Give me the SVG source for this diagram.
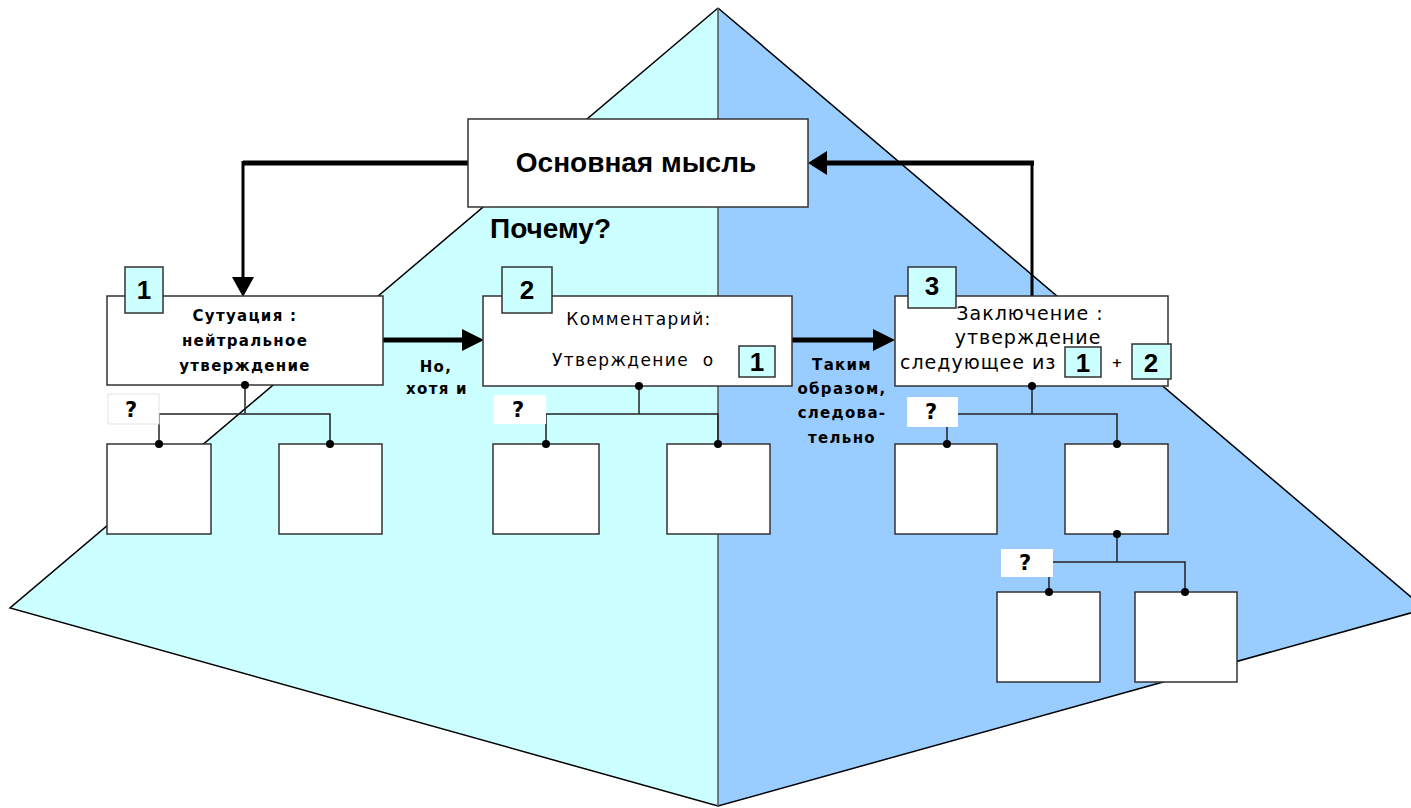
<svg xmlns="http://www.w3.org/2000/svg" width="1411" height="808" viewBox="0 0 1411 808">
<defs>
<style>
.box{fill:#fff;stroke:#333;stroke-width:1.5}
.num{fill:#ccffff;stroke:#333;stroke-width:1.5}
.q{fill:#fff;stroke:#e4e4e4;stroke-width:1}
.line{fill:none;stroke:#222;stroke-width:1.5}
.thick{fill:none;stroke:#000;stroke-width:5}
.mid{fill:none;stroke:#000;stroke-width:3}
.dot{fill:#000}
.head{fill:#000}
.numt{font-family:"Liberation Sans",Arial,sans-serif;font-weight:bold;font-size:26px;fill:#000;text-anchor:middle}
.bt{font-family:"DejaVu Sans",Verdana,sans-serif;font-weight:bold;font-size:15px;letter-spacing:1.3px;fill:#000;text-anchor:middle}
.rt{font-family:"DejaVu Sans",Verdana,sans-serif;font-size:17px;letter-spacing:1.4px;fill:#000}
.rt3{font-family:"DejaVu Sans",Verdana,sans-serif;font-size:19px;letter-spacing:1px;fill:#000}
.qt{font-family:"DejaVu Sans",Verdana,sans-serif;font-weight:bold;font-size:21px;fill:#000;text-anchor:middle}
</style>
</defs>
<g id="pyramid">
<polygon points="718,8 10,608 718,806" fill="#ccffff"/>
<polygon points="718,8 1425,609 718,806" fill="#99ccff"/>
<polyline points="718,8 10,608 718,806 1425,609 718,8" fill="none" stroke="#000" stroke-width="1.5"/>
<line x1="718" y1="8" x2="718" y2="806" stroke="#555" stroke-width="1.5"/>
</g>
<g id="connectors">
<polyline class="thick" points="468,163 243,163"/>
<line class="mid" x1="243" y1="161" x2="243" y2="280"/>
<polygon class="head" points="232,277 254,277 243,297"/>
<line class="mid" x1="1032" y1="296" x2="1032" y2="163"/>
<polyline class="thick" points="1034,163 826,163"/>
<polygon class="head" points="827,151 827,175 808,163"/>
<line class="thick" x1="383" y1="340" x2="464" y2="340"/>
<polygon class="head" points="462,329 462,351 484,340"/>
<line class="thick" x1="792" y1="340" x2="875" y2="340"/>
<polygon class="head" points="873,329 873,351 895,340"/>
<polyline class="line" points="245,386 245,414"/>
<polyline class="line" points="159,444 159,414 330,414 330,444"/>
<polyline class="line" points="639,386 639,414"/>
<polyline class="line" points="546,444 546,414 718,414 718,444"/>
<polyline class="line" points="1032,386 1032,414"/>
<polyline class="line" points="947,444 947,414 1117,414 1117,444"/>
<polyline class="line" points="1117,534 1117,562"/>
<polyline class="line" points="1049,592 1049,562 1185,562 1185,592"/>
</g>
<g id="main">
<rect class="box" x="468" y="119" width="340" height="88"/>
<text x="636" y="172" font-family="Liberation Sans, Arial, sans-serif" font-weight="bold" font-size="28" text-anchor="middle">Основная мысль</text>
</g>
<g id="why">
<text x="490" y="238" font-family="Liberation Sans, Arial, sans-serif" font-weight="bold" font-size="28">Почему?</text>
</g>
<g id="node1">
<rect class="box" x="107" y="296" width="276" height="89"/>
<rect class="num" x="125" y="267" width="38" height="46"/>
<text class="numt" x="144" y="299">1</text>
<text class="bt" x="245" y="321">Сутуация :</text>
<text class="bt" x="245" y="346">нейтральное</text>
<text class="bt" x="245" y="371">утверждение</text>
</g>
<g id="label12">
<text class="bt" x="436" y="372">Но,</text>
<text class="bt" x="437" y="394">хотя и</text>
</g>
<g id="node2">
<rect class="box" x="483" y="296" width="309" height="90"/>
<rect class="num" x="502" y="267" width="50" height="46"/>
<text class="numt" x="527" y="299">2</text>
<text class="rt" x="639" y="325" text-anchor="middle">Комментарий:</text>
<text class="rt" x="552" y="366" xml:space="preserve">Утверждение  о</text>
<rect class="num" x="739" y="346" width="36" height="31"/>
<text class="numt" x="757" y="371">1</text>
</g>
<g id="label23">
<text class="bt" x="842" y="370">Таким</text>
<text class="bt" x="842" y="394">образом,</text>
<text class="bt" x="842" y="418">следова-</text>
<text class="bt" x="842" y="443">тельно</text>
</g>
<g id="node3">
<rect class="box" x="895" y="296" width="273" height="90"/>
<rect class="num" x="908" y="267" width="48" height="41"/>
<text class="numt" x="932" y="295">3</text>
<text class="rt3" x="1030" y="320" text-anchor="middle">Заключение :</text>
<text class="rt3" x="1028" y="344" text-anchor="middle">утверждение</text>
<text class="rt3" x="900" y="369">следующее из</text>
<rect class="num" x="1065" y="347" width="36" height="30"/>
<text class="numt" x="1083" y="372">1</text>
<text x="1117" y="367" font-family="DejaVu Sans, sans-serif" font-weight="bold" font-size="13" text-anchor="middle">+</text>
<rect class="num" x="1132" y="344" width="39" height="35"/>
<text class="numt" x="1151" y="372">2</text>
</g>
<g id="sub1a"><rect class="box" x="107" y="444" width="104" height="90"/></g>
<g id="sub1b"><rect class="box" x="279" y="444" width="103" height="90"/></g>
<g id="sub2a"><rect class="box" x="493" y="444" width="106" height="90"/></g>
<g id="sub2b"><rect class="box" x="667" y="444" width="103" height="90"/></g>
<g id="sub3a"><rect class="box" x="895" y="444" width="102" height="90"/></g>
<g id="sub3b"><rect class="box" x="1065" y="444" width="103" height="90"/></g>
<g id="sub3b1"><rect class="box" x="997" y="592" width="103" height="90"/></g>
<g id="sub3b2"><rect class="box" x="1135" y="592" width="102" height="90"/></g>
<g id="q1"><rect class="q" x="108" y="394" width="51" height="30"/><text class="qt" x="131" y="417">?</text></g>
<g id="q2"><rect class="q" x="494" y="395" width="52" height="29" style="stroke:none"/><text class="qt" x="518" y="417">?</text></g>
<g id="q3"><rect class="q" x="907" y="397" width="51" height="30" style="stroke:none"/><text class="qt" x="931" y="419">?</text></g>
<g id="q4"><rect class="q" x="1001" y="549" width="52" height="28" style="stroke:none"/><text class="qt" x="1025" y="570">?</text></g>
<g id="dots">
<circle class="dot" cx="245" cy="385" r="4"/>
<circle class="dot" cx="159" cy="444" r="4"/>
<circle class="dot" cx="330" cy="444" r="4"/>
<circle class="dot" cx="639" cy="386" r="4"/>
<circle class="dot" cx="546" cy="444" r="4"/>
<circle class="dot" cx="718" cy="444" r="4"/>
<circle class="dot" cx="1032" cy="386" r="4"/>
<circle class="dot" cx="947" cy="444" r="4"/>
<circle class="dot" cx="1117" cy="444" r="4"/>
<circle class="dot" cx="1117" cy="534" r="4"/>
<circle class="dot" cx="1049" cy="592" r="4"/>
<circle class="dot" cx="1185" cy="592" r="4"/>
</g>
</svg>
